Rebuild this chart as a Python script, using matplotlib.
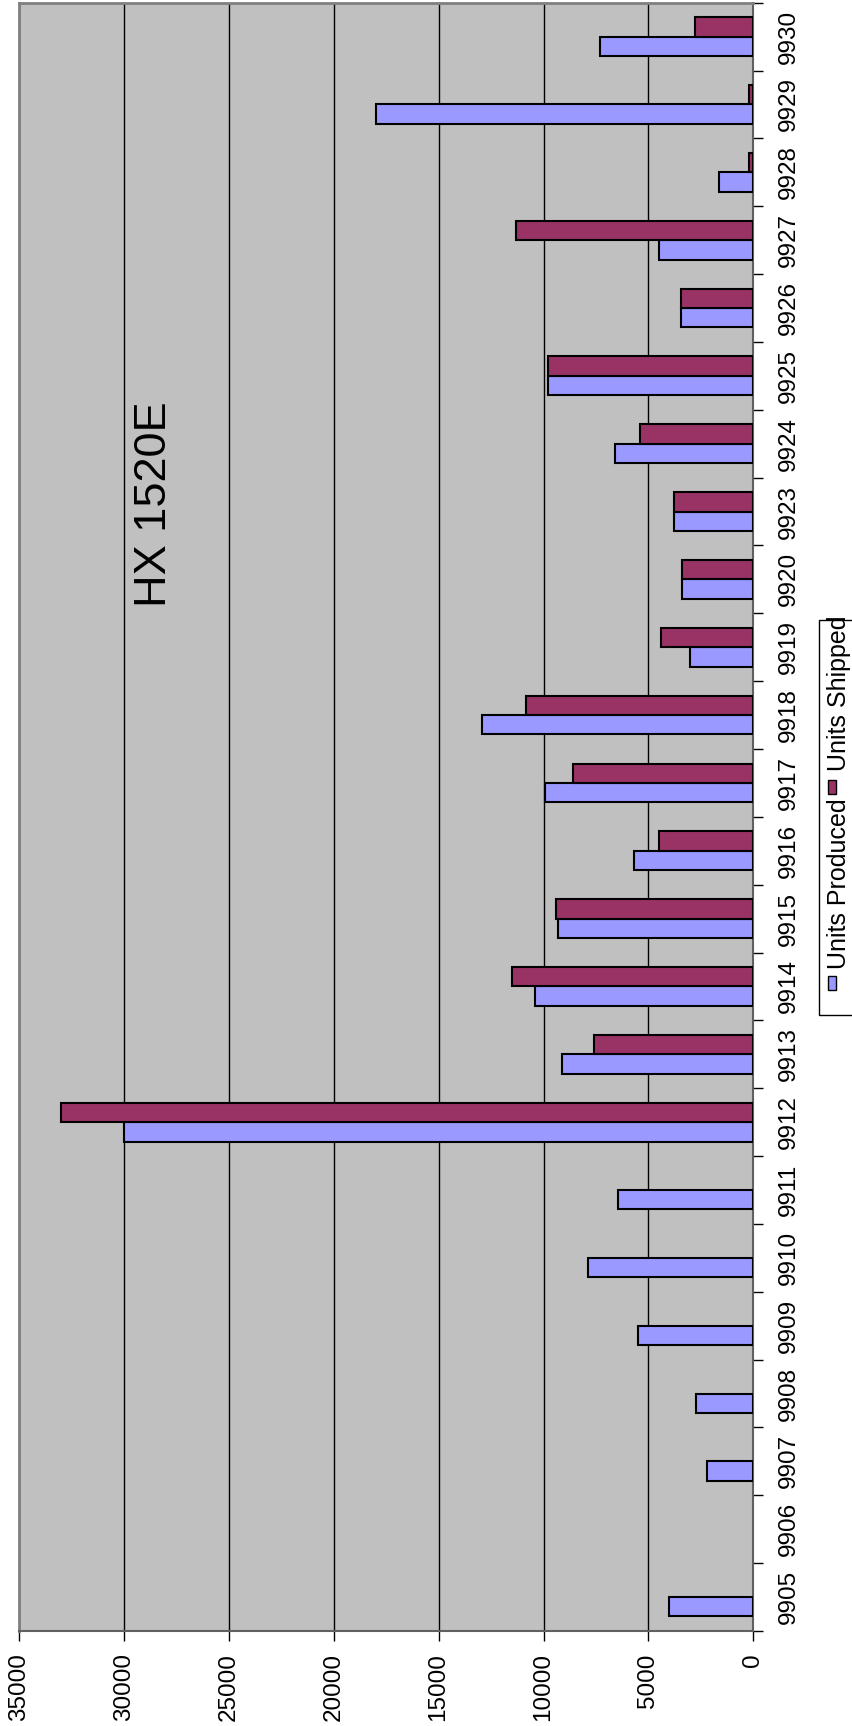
import numpy as np
import matplotlib
matplotlib.use('Agg')
import matplotlib.pyplot as plt
from matplotlib.patches import Rectangle

plt.rcParams['font.family'] = ['Liberation Sans', 'DejaVu Sans']

# Chart data (Excel column chart, shown rotated 90 degrees)
categories = ['9905', '9906', '9907', '9908', '9909', '9910', '9911', '9912',
              '9913', '9914', '9915', '9916', '9917', '9918', '9919', '9920',
              '9923', '9924', '9925', '9926', '9927', '9928', '9929', '9930']
units_produced = [4000, np.nan, 2200, 2750, 5500, 7900, 6450, 30000,
                  9100, 10400, 9300, 5700, 9950, 12950, 3000, 3400,
                  3800, 6600, 9800, 3450, 4500, 1650, 18000, 7300]
units_shipped = [np.nan, np.nan, np.nan, np.nan, np.nan, np.nan, np.nan, 33000,
                 7600, 11500, 9400, 4500, 8600, 10850, 4400, 3400,
                 3800, 5400, 9800, 3450, 11300, 200, 200, 2800]
value_ticks = [0, 5000, 10000, 15000, 20000, 25000, 30000, 35000]
title = 'HX 1520E'
series_names = ['Units Produced', 'Units Shipped']

W, H = 852, 1726
fig = plt.figure(figsize=(W / 100, H / 100), dpi=100)
fig.patch.set_facecolor('white')


def fx(px):
    return px / W


def fy(py):
    return 1 - py / H


# plot area in pixels
left, right, top, bottom = 19, 753.3, 2.7, 1631
ax = fig.add_axes([fx(left), fy(bottom), fx(right - left), (bottom - top) / H])
ax.set_facecolor('#C0C0C0')

pos = np.arange(len(categories))
w = 1 / 3.5  # gap width 150%

ax.barh(pos - w / 2, units_produced, height=w, color='#9999FF',
        edgecolor='black', linewidth=1.5, zorder=3)
ax.barh(pos + w / 2, units_shipped, height=w, color='#993366',
        edgecolor='black', linewidth=1.5, zorder=3)

ax.set_xlim(35000, 0)
ax.set_ylim(-0.5, len(categories) - 0.5)

# value axis (bottom)
ax.set_xticks(value_ticks)
ax.set_xticklabels([str(v) for v in value_ticks], rotation=90, fontsize=17.5)
ax.tick_params(axis='x', direction='out', length=7, width=1, pad=9, colors='black')
ax.grid(axis='x', color='black', linewidth=1, zorder=1)

# category axis (right)
ax.yaxis.tick_right()
ax.set_yticks(pos)
ax.set_yticklabels(categories, rotation=90, va='center', fontsize=17.5)
ax.set_yticks(np.arange(-0.5, len(categories)), minor=True)
ax.tick_params(axis='y', which='major', length=0, pad=18)
ax.tick_params(axis='y', which='minor', direction='out', length=7, width=1, color='black')

for side in ['left', 'top']:
    ax.spines[side].set_color('#808080')
    ax.spines[side].set_linewidth(2)
for side in ['right', 'bottom']:
    ax.spines[side].set_color('#606060')
    ax.spines[side].set_linewidth(1.5)

# title, rotated with the chart
fig.text(fx(154), fy(504), title, rotation=90, fontsize=32.5,
         ha='center', va='center')

# legend, drawn rotated
fig.patches.append(Rectangle((fx(819), fy(1015)), fx(60), (1015 - 620) / H,
                             transform=fig.transFigure, facecolor='white',
                             edgecolor='black', linewidth=1))
fig.patches.append(Rectangle((fx(828), fy(990)), fx(8), 14 / H,
                             transform=fig.transFigure, facecolor='#9999FF',
                             edgecolor='black', linewidth=1))
fig.text(fx(839), fy(884), series_names[0], rotation=90, fontsize=18,
         ha='center', va='center')
fig.patches.append(Rectangle((fx(828), fy(794)), fx(8), 14 / H,
                             transform=fig.transFigure, facecolor='#993366',
                             edgecolor='black', linewidth=1))
fig.text(fx(839), fy(693), series_names[1], rotation=90, fontsize=18,
         ha='center', va='center')

fig.savefig('out.png', dpi=100)
